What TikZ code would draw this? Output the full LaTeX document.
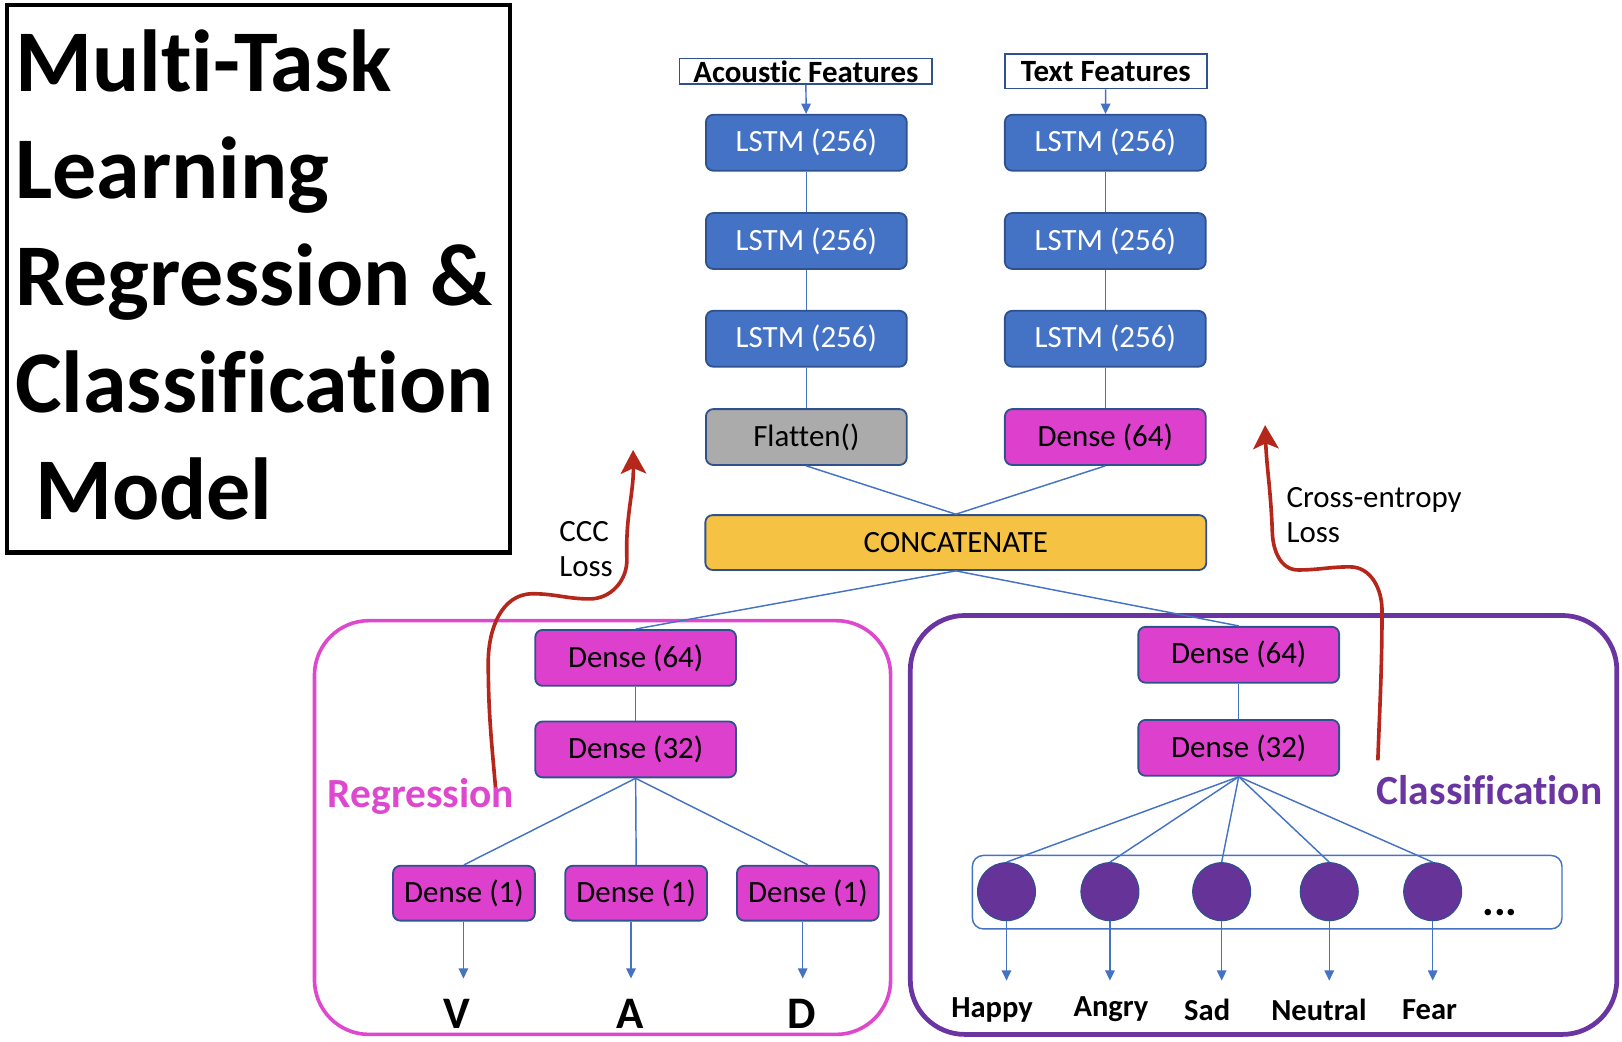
\documentclass[tikz,border=0pt]{standalone}
\usepackage{fontspec}
\setmainfont{Carlito}[Ligatures={NoCommon}]
\usetikzlibrary{arrows.meta}
\definecolor{lstmblue}{HTML}{4472C4}
\definecolor{boxedge}{HTML}{2F528F}
\definecolor{flatgray}{HTML}{ABABAB}
\definecolor{densemag}{HTML}{DC40CC}
\definecolor{concatgold}{HTML}{F6C244}
\definecolor{regmag}{HTML}{DE48CE}
\definecolor{clspurple}{HTML}{6A35A0}
\definecolor{neuronpurple}{HTML}{663399}
\definecolor{lossred}{HTML}{B5261B}
\begin{document}
\begin{tikzpicture}[x=0.01cm, y=-0.01cm,
    every node/.style={font=\fontsize{8.5}{9.7}\selectfont, inner sep=0pt},
    box/.style={draw=boxedge, line width=0.5pt, rounded corners=2pt, minimum height=0.54cm},
    lstm/.style={box, fill=lstmblue, text=white, minimum width=1.94cm},
    dense/.style={box, fill=densemag, minimum width=1.94cm},
    unit/.style={dense, minimum width=1.37cm, minimum height=0.53cm},
    feat/.style={draw=boxedge, line width=0.5pt, font=\bfseries\fontsize{8.5}{9.7}\selectfont},
    link/.style={draw=lstmblue, line width=0.4pt},
    arr/.style={link, -{Triangle[length=2.8pt,width=2.6pt]}},
    loss/.style={draw=lossred, line width=1pt, -{Stealth[length=6.5pt,width=7pt,inset=1.5pt]}},
    neuron/.style={circle, draw=boxedge, line width=0.3pt, fill=neuronpurple, minimum size=0.56cm},
    emolab/.style={font=\bfseries\fontsize{8.4}{9.7}\selectfont},
    head/.style={font=\bfseries\fontsize{24.2}{29}\selectfont, anchor=base west}]
  \useasboundingbox (0,0) rectangle (1568,1007);

  \draw[line width=1.2pt] (7,5) rectangle (493,534);
  \foreach \ln [count=\i] in {Multi-Task, Learning, Regression \&, Classification, {\ Model}}
    \node[head] (title\i) at (14, {88+103.5*(\i-1)}) {\ln};

  \node[feat, minimum width=2.44cm, minimum height=0.25cm] (acf) at (779,69) {Acoustic Features};
  \node[feat, minimum width=1.95cm, minimum height=0.33cm] (txf) at (1069,69) {Text Features};

  \node[lstm] (a1) at (779.5,138) {LSTM (256)};
  \node[lstm] (a2) at (779.5,233) {LSTM (256)};
  \node[lstm] (a3) at (779.5,327.5) {LSTM (256)};
  \node[box, fill=flatgray, minimum width=1.94cm] (flat) at (779.5,422.5) {Flatten()};
  \node[lstm] (t1) at (1068.5,138) {LSTM (256)};
  \node[lstm] (t2) at (1068.5,233) {LSTM (256)};
  \node[lstm] (t3) at (1068.5,327.5) {LSTM (256)};
  \node[dense] (t4) at (1068.5,422.5) {Dense (64)};
  \node[box, fill=concatgold, minimum width=4.84cm, minimum height=0.53cm] (cat) at (924,524.5) {CONCATENATE};

  \draw[arr] (acf) to (a1);
  \draw[arr] (txf) to (t1);
  \draw[link] (a1) to (a2);
  \draw[link] (a2) to (a3);
  \draw[link] (a3) to (flat);
  \draw[link] (t1) to (t2);
  \draw[link] (t2) to (t3);
  \draw[link] (t3) to (t4);
  \draw[link] (flat.south) to (cat.north);
  \draw[link] (t4.south) to (cat.north);

  \draw[regmag, line width=1pt, rounded corners=15pt] (304,600) rectangle (861,1000);
  \node[font=\bfseries\fontsize{11.4}{13}\selectfont, text=regmag] (reglab) at (407,770) {Regression};
  \node[dense] (r1) at (614.5,636) {Dense (64)};
  \node[dense] (r2) at (614.5,724.5) {Dense (32)};
  \draw[link] (cat.south) to (r1.north);
  \draw[link] (r1) to (r2);
  \foreach \x/\ax/\lx/\lab [count=\i] in {448.5/448/442/V, 615/610/609/A, 781/776/775/D} {
    \node[unit] (u\i) at (\x,863.5) {Dense (1)};
    \coordinate (ue\i) at (\ax,946);
    \node[font=\bfseries\fontsize{12.4}{14}\selectfont] (ul\i) at (\lx,980) {\lab};
    \draw[link] (r2.south) to (u\i.north);
    \draw[arr] (u\i.south -| ue\i) to (ue\i);
  }

  \draw[clspurple, line width=1.3pt, rounded corners=15pt] (880,595) rectangle (1563,1000);
  \node[font=\bfseries\fontsize{11.4}{13}\selectfont, text=clspurple] (clslab) at (1440,764) {Classification};
  \node[dense] (c1) at (1197.5,633) {Dense (64)};
  \node[dense] (c2) at (1197.5,723) {Dense (32)};
  \draw[link] (cat.south) to (c1.north);
  \draw[link] (c1) to (c2);
  \draw[link, rounded corners=3pt] (940,827) rectangle (1510,898);
  \node[font=\bfseries\fontsize{12}{13}\selectfont] (more) at (1450,882) {...};
  \foreach \x/\lx/\lab [count=\i] in {973/959/Happy, 1073/1074/Angry, 1181/1167/Sad, 1285/1275/Neutral, 1385/1382/Fear} {
    \node[neuron] (n\i) at (\x,862) {};
    \coordinate (ne\i) at (\x,948);
    \node[emolab] (nl\i) at (\lx,976) {\lab};
    \draw[link] (c2.south) to (n\i.north);
    \draw[arr] (n\i.south) to (ne\i);
  }

  \coordinate (ccc0) at (479,761);
  \coordinate (ccc1) at (612,435);
  \draw[loss] (ccc0) to[out=95,in=-90] (472,640) to[out=90,in=180] (515,574)
    to[out=0,in=180] (570,579) to[out=0,in=-88] (606,540) to[out=92,in=-89] (ccc1);
  \node[align=left, anchor=west] (ccclab) at (540,531) {CCC\\Loss};

  \coordinate (ce0) at (1332,735);
  \coordinate (ce1) at (1223,411);
  \draw[loss] (ce0) to[out=88,in=-90] (1336,590) to[out=90,in=0] (1305,548)
    to[out=180,in=0] (1255,551) to[out=180,in=-88] (1230,515) to[out=92,in=-88] (ce1);
  \node[align=left, anchor=west] (celab) at (1243,498) {Cross-entropy\\Loss};
\end{tikzpicture}
\end{document}
